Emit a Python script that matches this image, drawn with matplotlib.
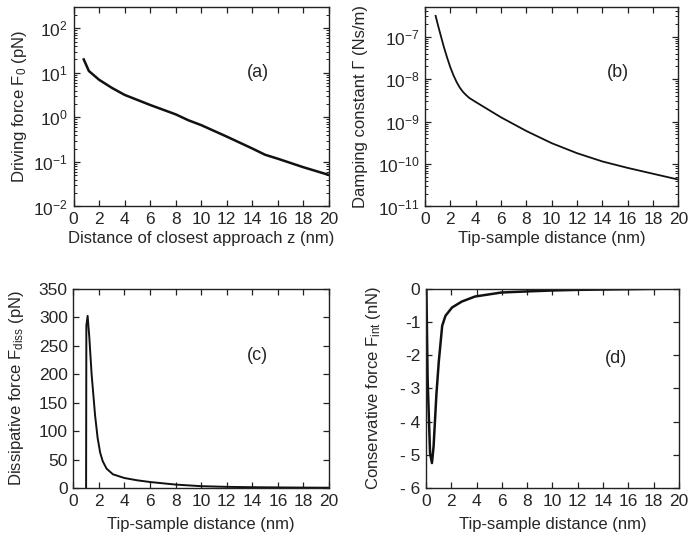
import matplotlib
matplotlib.use("Agg")
import matplotlib.pyplot as plt
from matplotlib.ticker import MultipleLocator, LogLocator, NullFormatter, FixedLocator, FixedFormatter

plt.rcParams['font.family'] = ['Liberation Sans', 'DejaVu Sans']
plt.rcParams['mathtext.fontset'] = 'custom'
plt.rcParams['mathtext.rm'] = 'Liberation Sans'
plt.rcParams['mathtext.it'] = 'Liberation Sans:italic'
plt.rcParams['mathtext.default'] = 'regular'
plt.rcParams['axes.unicode_minus'] = False

# (a) driving force vs distance of closest approach
za = [0.8, 1.2, 2, 3, 4, 6, 8, 9, 10, 12, 14, 15, 16, 18, 20]
fa = [20, 11, 7.0, 4.6, 3.2, 1.9, 1.17, 0.86, 0.67, 0.37, 0.2, 0.145, 0.118, 0.076, 0.051]

# (b) damping constant
zb = [0.84, 1.0, 1.25, 1.5, 1.75, 2.0, 2.25, 2.5, 2.75, 3.0, 3.25, 3.5, 4, 6, 8, 10, 12, 14, 16, 18, 20]
gb = [3.1e-7, 2.0e-7, 1.05e-7, 5.6e-8, 3.2e-8, 1.9e-8, 1.23e-8, 8.5e-9, 6.3e-9, 5.0e-9, 4.2e-9,
      3.6e-9, 2.9e-9, 1.26e-9, 6.0e-10, 3.1e-10, 1.8e-10, 1.15e-10, 8.1e-11, 5.9e-11, 4.3e-11]

# (c) dissipative force
zc = [1.0, 1.02, 1.12, 1.25, 1.43, 1.7, 1.9, 2.1, 2.3, 2.6, 3.1, 4, 5, 6, 8, 10, 12, 14, 16, 18, 20]
fc = [0, 285, 302, 265, 200, 128, 88, 62, 47, 34, 24, 17.5, 13.5, 10.5, 6, 3.2, 2, 1.4, 1.0, 0.7, 0.5]

# (d) conservative force
zd = [0.03, 0.13, 0.32, 0.47, 0.6, 0.82, 1.01, 1.28, 1.54, 2.06, 2.84, 3.88, 5.96, 7.8, 9.9, 12, 16, 20]
fd = [0, -2.75, -4.95, -5.25, -4.75, -3.2, -2.2, -1.12, -0.82, -0.57, -0.39, -0.24, -0.12, -0.09, -0.06, -0.04, -0.02, 0]

txt = '#262626'
lab = 12
fig = plt.figure(figsize=(6.91, 5.40), dpi=100)
ax_a = fig.add_axes([0.1064, 0.6176, 0.3697, 0.3694])
ax_b = fig.add_axes([0.6150, 0.6176, 0.3669, 0.3694])
ax_c = fig.add_axes([0.1061, 0.0963, 0.3700, 0.3694])
ax_d = fig.add_axes([0.6165, 0.0963, 0.3661, 0.3694])

for ax in (ax_a, ax_b, ax_c, ax_d):
    for s in ax.spines.values():
        s.set_linewidth(1.0)
        s.set_color('#222222')
    ax.tick_params(which='both', direction='in', top=True, right=True,
                   labelsize=12.5, colors='#222222', labelcolor=txt)
    ax.tick_params(which='major', length=4, width=0.9, pad=4)
    ax.tick_params(which='minor', length=2, width=0.7)
    ax.set_xlim(0, 20)
    ax.xaxis.set_major_locator(MultipleLocator(2))

ax_a.plot(za, fa, color='#111111', lw=1.8)
ax_a.set_yscale('log')
ax_a.set_ylim(1e-2, 300)
ax_a.set_ylabel('Driving force F$_0$ (pN)', fontsize=lab, color=txt, labelpad=3)
ax_a.set_xlabel('Distance of closest approach z (nm)', fontsize=lab, color=txt, labelpad=3)
ax_a.text(0.72, 0.67, '(a)', transform=ax_a.transAxes, fontsize=13, ha='center', va='center', color=txt)

ax_b.plot(zb, gb, color='#111111', lw=1.3)
ax_b.set_yscale('log')
ax_b.set_ylim(1e-11, 5e-7)
ax_b.set_ylabel('Damping constant Γ (Ns/m)', fontsize=lab, color=txt, labelpad=7)
ax_b.set_xlabel('Tip-sample distance (nm)', fontsize=lab, color=txt, labelpad=3)
ax_b.text(0.76, 0.67, '(b)', transform=ax_b.transAxes, fontsize=13, ha='center', va='center', color=txt)

for ax in (ax_a, ax_b):
    ax.yaxis.set_major_locator(LogLocator(base=10, numticks=20))
    ax.yaxis.set_minor_locator(LogLocator(base=10, subs=range(2, 10), numticks=20))
    ax.yaxis.set_minor_formatter(NullFormatter())

ax_c.plot(zc, fc, color='#111111', lw=1.4)
ax_c.set_ylim(0, 350)
ax_c.yaxis.set_major_locator(MultipleLocator(50))
ax_c.set_ylabel('Dissipative force F$_{diss}$ (pN)', fontsize=lab, color=txt, labelpad=9)
ax_c.set_xlabel('Tip-sample distance (nm)', fontsize=lab, color=txt, labelpad=6)
ax_c.text(0.72, 0.665, '(c)', transform=ax_c.transAxes, fontsize=13, ha='center', va='center', color=txt)

ax_d.plot(zd, fd, color='#111111', lw=1.8)
ax_d.set_ylim(-6, 0)
ax_d.yaxis.set_major_locator(FixedLocator([-6, -5, -4, -3, -2, -1, 0]))
ax_d.yaxis.set_major_formatter(FixedFormatter(['- 6', '- 5', '- 4', '- 3', '-2', '-1', '0']))
ax_d.set_ylabel('Conservative force F$_{int}$ (nN)', fontsize=lab, color=txt, labelpad=12)
ax_d.set_xlabel('Tip-sample distance (nm)', fontsize=lab, color=txt, labelpad=6)
ax_d.text(0.75, 0.65, '(d)', transform=ax_d.transAxes, fontsize=13, ha='center', va='center', color=txt)

fig.savefig('out.png', dpi=100)
